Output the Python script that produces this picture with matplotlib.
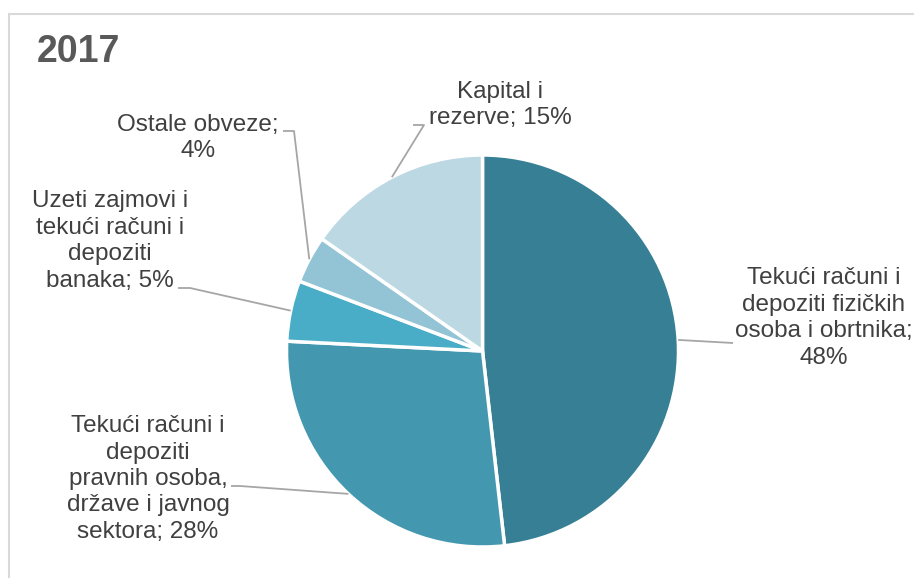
import matplotlib.pyplot as plt
from matplotlib.patches import Rectangle
import numpy as np

plt.rcParams['font.family'] = ['Liberation Sans', 'DejaVu Sans']

# Data (clockwise from 12 o'clock)
categories = ['Tekući računi i\ndepoziti fizičkih\nosoba i obrtnika;',
              'Tekući računi i\ndepoziti\npravnih osoba,\ndržave i javnog\nsektora;',
              'Uzeti zajmovi i\ntekući računi i\ndepoziti\nbanaka;',
              'Ostale obveze;',
              'Kapital i\nrezerve;']
shares = [48.2, 27.6, 5.0, 3.9, 15.3]
colors = ['#367f94', '#4398b0', '#4aadc7', '#93c4d5', '#bcd8e3']

W, H = 914, 578

def px(x, y):
    # pixel coords (top-left origin) -> data coords
    return x, H - y

# label layout: text centre, leader line points (pixels)
text_pos = [(824, 318), (148, 479), (110, 241), (198, 138), (500, 105)]
leader_pts = [[(733, 343)],
              [(231, 486), (240, 486)],
              [(178, 288), (190, 288)],
              [(283, 131), (294, 131)],
              [(413, 125), (424, 125)]]
joiners = ['\n', ' ', ' ', '\n', ' ']

fig = plt.figure(figsize=(W / 100, H / 100), dpi=100)
ax = fig.add_axes([0, 0, 1, 1])

cx, cy = px(482.5, 351)
r = 196
wedges, _ = ax.pie(shares, colors=colors, startangle=90, counterclock=False,
                   center=(cx, cy), radius=r,
                   wedgeprops=dict(edgecolor='white', linewidth=2.5))
ax.set_xlim(0, W)
ax.set_ylim(0, H)
ax.set_aspect('equal')
ax.axis('off')

for w, cat, v, tp, pts, j in zip(wedges, categories, shares, text_pos, leader_pts, joiners):
    mid = np.deg2rad((w.theta1 + w.theta2) / 2)
    ax_pt = (cx + r * np.cos(mid), cy + r * np.sin(mid))
    line = [px(*p) for p in pts] + [ax_pt]
    xs, ys = zip(*line)
    ax.plot(xs, ys, color='#a6a6a6', lw=1.3, solid_capstyle='butt')
    ax.text(*px(*tp), f'{cat}{j}{v:.0f}%', ha='center', va='center',
            fontsize=17.5, color='#404040', linespacing=1.26)

ax.text(*px(37, 52), '2017', ha='left', va='center', fontsize=27,
        fontweight='bold', color='#595959')

fig.patches.append(Rectangle((9 / W, -0.1), 1.2, (H - 14) / H + 0.1,
                             transform=fig.transFigure, fill=False,
                             edgecolor='#d9d9d9', lw=1.5))

fig.savefig('out.png', dpi=100, facecolor='white')
